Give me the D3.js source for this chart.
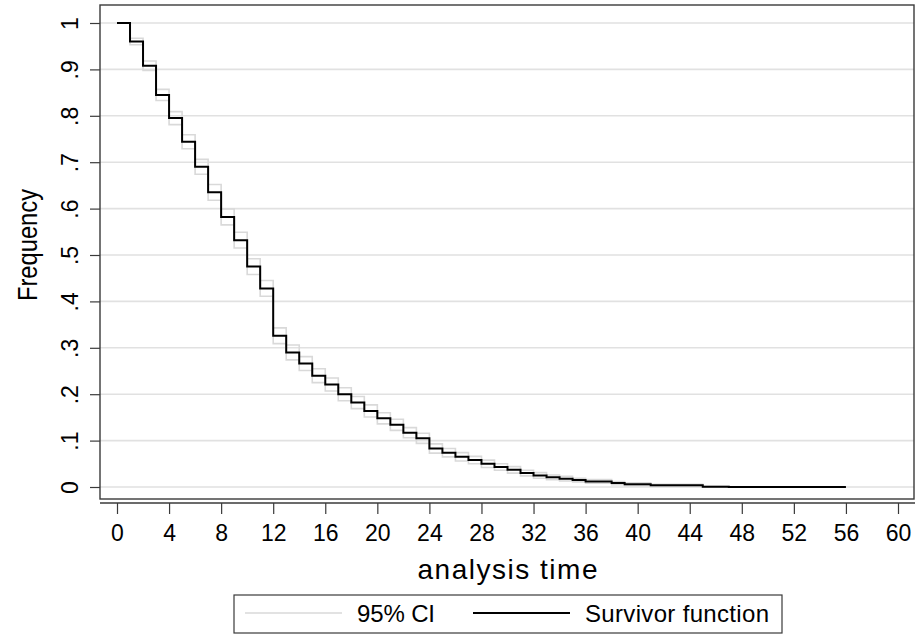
<!DOCTYPE html>
<html>
<head>
<meta charset="utf-8">
<script src="https://cdnjs.cloudflare.com/ajax/libs/d3/7.8.5/d3.min.js"></script>
<style>
  body { margin: 0; background: #fff; }
  svg { display: block; font-family: "Liberation Sans", Arial, sans-serif; }
</style>
</head>
<body>
<div id="chart"></div>
<script>
// =============================================================
// DATA

let times    = [ 0, 1, 2, 3, 4, 5, 6, 7, 8, 9,
                 10, 11, 12, 13, 14, 15, 16, 17, 18, 19,
                 20, 21, 22, 23, 24, 25, 26, 27, 28, 29,
                 30, 31, 32, 33, 34, 35, 36, 38, 39, 41,
                 45, 47 ];
let survival = [ 1, .960, .908, .845, .795, .744, .690, .635, .582, .532,
                 .475, .428, .326, .290, .266, .240, .221, .200, .182, .164,
                 .148, .134, .117, .105, .083, .074, .065, .058, .050, .043,
                 .037, .030, .025, .021, .018, .015, .012, .0085, .006, .0036,
                 .0007, .0002 ];
let ci_upper = [ 1, .967, .918, .857, .809, .759, .706, .652, .599, .549,
                 .492, .445, .343, .306, .281, .255, .235, .214, .195, .177,
                 .160, .146, .128, .116, .093, .083, .074, .066, .058, .050,
                 .044, .036, .031, .026, .023, .019, .016, .012, .009, .006,
                 .0017, .0005 ];
let ci_lower = [ 1, .953, .898, .833, .781, .729, .674, .618, .565, .515,
                 .458, .411, .309, .274, .251, .225, .207, .186, .169, .151,
                 .136, .122, .106, .094, .073, .065, .056, .050, .042, .036,
                 .030, .024, .019, .016, .013, .011, .008, .005, .003, .0011,
                 .0001, 0 ];
let end_time = 56;

let x_ticks = [ 0, 4, 8, 12, 16, 20, 24, 28, 32, 36, 40, 44, 48, 52, 56, 60 ];
let y_ticks = [ 0, .1, .2, .3, .4, .5, .6, .7, .8, .9, 1 ];

let x_title = 'analysis time';
let y_title = 'Frequency';
let legend_labels = [ '95% CI', 'Survivor function' ];

// =============================================================
// SUPPORT FUNCTIONS

function toSteps(values) {
// pair times with values and carry the last value to the end time
    let pts = times.map(function (t, i) { return [ t, values[i] ]; });
    pts.push([ end_time, values[values.length - 1] ]);
    return pts;
}

function fmtY(d) {
    if (d === 0) return '0';
    if (d === 1) return '1';
    return d3.format('.1f')(d).replace(/^0/, '');
}

// =============================================================
// MAIN

let width = 917, height = 641;
let box = { left: 100, top: 5, right: 914, bottom: 499 };
let grid_colour = '#e1e1e1';
let ci_colour = '#d9d9d9';
let frame_colour = '#3a3a3a';
let font = '"Liberation Sans", Arial, sans-serif';

let svg = d3.select('#chart')
            .append('svg')
            .attr('width', width)
            .attr('height', height);

let x_scale = d3.scaleLinear()
                .domain([ 0, 60 ])
                .range([ 117, 898 ]);

let y_scale = d3.scaleLinear()
                .domain([ 0, 1 ])
                .range([ 487, 23 ]);

// gridlines
svg.append('g')
   .selectAll('line')
   .data(y_ticks)
   .enter()
   .append('line')
   .attr('x1', box.left)
   .attr('x2', box.right)
   .attr('y1', function (d) { return y_scale(d); })
   .attr('y2', function (d) { return y_scale(d); })
   .attr('stroke', grid_colour)
   .attr('stroke-width', 1.6);

// plot frame
svg.append('rect')
   .attr('x', box.left)
   .attr('y', box.top)
   .attr('width', box.right - box.left)
   .attr('height', box.bottom - box.top)
   .attr('fill', 'none')
   .attr('stroke', frame_colour)
   .attr('stroke-width', 1.4);

// step curves
let step_line = d3.line()
                  .x(function (d) { return x_scale(d[0]); })
                  .y(function (d) { return y_scale(d[1]); })
                  .curve(d3.curveStepAfter);

[ ci_upper, ci_lower ].forEach(function (vals) {
    svg.append('path')
       .attr('d', step_line(toSteps(vals)))
       .attr('fill', 'none')
       .attr('stroke', ci_colour)
       .attr('stroke-width', 1.6);
});

svg.append('path')
   .attr('d', step_line(toSteps(survival)))
   .attr('fill', 'none')
   .attr('stroke', '#000')
   .attr('stroke-width', 2);

// x axis (separate line under the plot frame)
let x_axis = d3.axisBottom(x_scale)
               .tickValues(x_ticks)
               .tickSizeInner(11)
               .tickSizeOuter(0)
               .tickPadding(11);

let gx = svg.append('g')
            .attr('transform', 'translate(0, 503)')
            .call(x_axis);
gx.select('.domain').remove();
gx.selectAll('line').attr('stroke', frame_colour).attr('stroke-width', 1.2);
gx.selectAll('text')
  .attr('font-size', 23)
  .attr('font-family', font)
  .attr('fill', '#000');
gx.append('line')
  .attr('x1', box.left)
  .attr('x2', box.right + 1)
  .attr('y1', 0)
  .attr('y2', 0)
  .attr('stroke', frame_colour)
  .attr('stroke-width', 1.4);

// y axis with rotated labels
let y_axis = d3.axisLeft(y_scale)
               .tickValues(y_ticks)
               .tickFormat(fmtY)
               .tickSizeInner(10)
               .tickSizeOuter(0);

let gy = svg.append('g')
            .attr('transform', 'translate(' + box.left + ', 0)')
            .call(y_axis);
gy.select('.domain').remove();
gy.selectAll('line').attr('stroke', frame_colour).attr('stroke-width', 1.2);
gy.selectAll('text')
  .attr('x', null)
  .attr('dy', null)
  .attr('transform', 'translate(-22, 0) rotate(-90)')
  .attr('text-anchor', 'middle')
  .attr('font-size', 23)
  .attr('font-family', font)
  .attr('fill', '#000');

// axis titles
svg.append('text')
   .attr('x', x_scale(30))
   .attr('y', 579)
   .attr('text-anchor', 'middle')
   .attr('font-size', 28)
   .attr('textLength', 180)
   .attr('lengthAdjust', 'spacing')
   .text(x_title);

svg.append('text')
   .attr('transform', 'translate(37, 245) rotate(-90)')
   .attr('text-anchor', 'middle')
   .attr('font-size', 28)
   .attr('textLength', 112)
   .attr('lengthAdjust', 'spacingAndGlyphs')
   .text(y_title);

// legend
let legend = svg.append('g');
legend.append('rect')
      .attr('x', 234)
      .attr('y', 595)
      .attr('width', 548)
      .attr('height', 38)
      .attr('fill', '#fff')
      .attr('stroke', frame_colour)
      .attr('stroke-width', 1.2);

legend.append('line')
      .attr('x1', 245).attr('x2', 342)
      .attr('y1', 613).attr('y2', 613)
      .attr('stroke', ci_colour)
      .attr('stroke-width', 1.6);
legend.append('text')
      .attr('x', 357).attr('y', 622)
      .attr('font-size', 24)
      .attr('textLength', 78)
      .attr('lengthAdjust', 'spacing')
      .text(legend_labels[0]);

legend.append('line')
      .attr('x1', 473).attr('x2', 570)
      .attr('y1', 613).attr('y2', 613)
      .attr('stroke', '#000')
      .attr('stroke-width', 2);
legend.append('text')
      .attr('x', 585).attr('y', 622)
      .attr('font-size', 24)
      .attr('textLength', 184)
      .attr('lengthAdjust', 'spacing')
      .text(legend_labels[1]);
</script>
</body>
</html>
